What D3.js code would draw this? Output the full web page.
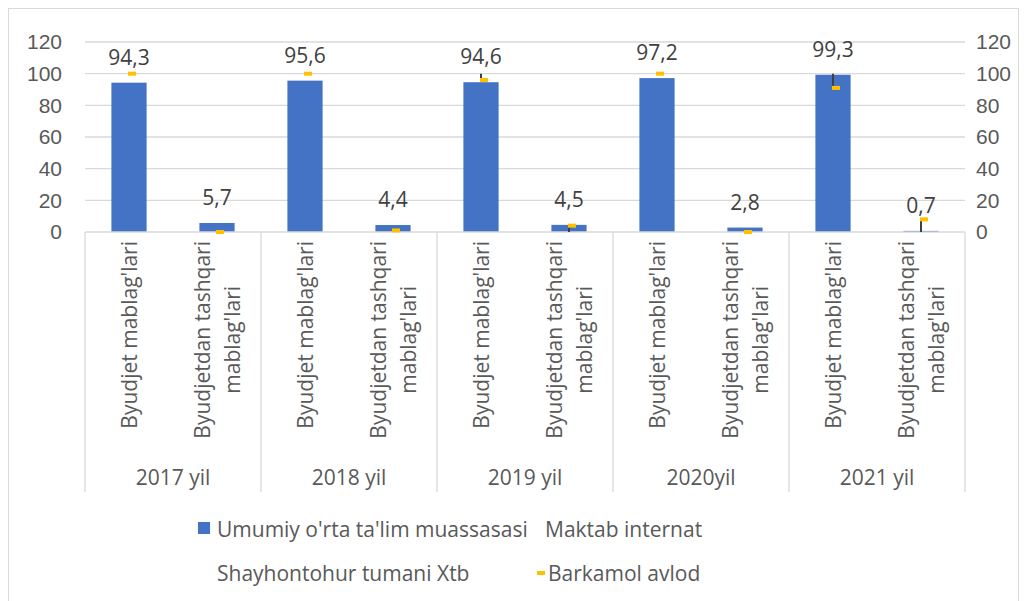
<!DOCTYPE html>
<html>
<head>
<meta charset="utf-8">
<script src="https://cdn.jsdelivr.net/npm/d3@7"></script>
<style>
  body { margin: 0; background: #fff; }
  svg { display: block; font-family: "Open Sans", sans-serif; }
  .tick-label { font-size: 21px; fill: #595959; }
  .data-label { font-size: 21px; fill: #404040; }
  .legend-text { font-size: 21px; fill: #595959; }
</style>
</head>
<body>
<div id="chart"></div>
<script>
// ---- data ----
const years = ['2017 yil', '2018 yil', '2019 yil', '2020yil', '2021 yil'];
const subCategories = ["Byudjet mablag'lari", "Byudjetdan tashqari mablag'lari"];
const yTicks = [0, 20, 40, 60, 80, 100, 120];

const umumiy = [94.3, 5.7, 95.6, 4.4, 94.6, 4.5, 97.2, 2.8, 99.3, 0.7];
const maktabInternat = [100, 0, 100, 0, 100, 0, 100, 0, 100, 0];
const shayhontohur = [100, 0, 100, 0, 100, 0, 100, 0, 100, 0];
const barkamol = [100, 0, 100, 1, 96, 4, 100, 0, 91, 8];

const seriesNames = ["Umumiy o'rta ta'lim muassasasi", 'Maktab internat', 'Shayhontohur tumani Xtb', 'Barkamol avlod'];

const COLORS = { bar: '#4472C4', marker: '#FFC000', grid: '#D9D9D9', hilo: '#404040' };

// categories: one per (year, sub) pair
const categories = years.flatMap((yr, i) => subCategories.map((s, j) => ({ key: i * 2 + j, year: yr, label: s })));

const W = 1027, H = 601;
const plot = { left: 85, right: 965, top: 42, bottom: 232 };

const svg = d3.select('#chart').append('svg').attr('width', W).attr('height', H);

// chart border
svg.append('rect').attr('x', 8.5).attr('y', 8.5).attr('width', 1010).attr('height', 620)
    .attr('fill', '#fff').attr('stroke', COLORS.grid).attr('stroke-width', 1);

const x = d3.scaleBand().domain(categories.map(d => d.key)).range([plot.left, plot.right])
    .paddingInner(0.6).paddingOuter(0.3);
const y = d3.scaleLinear().domain([0, 120]).range([plot.bottom, plot.top]);
const cx = k => x(k) + x.bandwidth() / 2;
const gap = (x.step() - x.bandwidth()) / 2;

// gridlines
svg.append('g').selectAll('line').data(yTicks.filter(t => t > 0)).join('line')
    .attr('x1', plot.left).attr('x2', plot.right)
    .attr('y1', d => y(d)).attr('y2', d => y(d))
    .attr('stroke', COLORS.grid).attr('stroke-width', 1.3);

// axes (labels only)
const leftAxis = svg.append('g').attr('transform', `translate(${plot.left},0)`)
    .call(d3.axisLeft(y).tickValues(yTicks).tickSize(0).tickPadding(23));
const rightAxis = svg.append('g').attr('transform', `translate(${plot.right},0)`)
    .call(d3.axisRight(y).tickValues(yTicks).tickSize(0).tickPadding(11));
[leftAxis, rightAxis].forEach(g => {
    g.select('.domain').remove();
    g.selectAll('text').attr('class', 'tick-label').attr('font-family', null).attr('font-size', null);
});

// bars
svg.append('g').selectAll('rect').data(categories).join('rect')
    .attr('x', d => x(d.key)).attr('width', x.bandwidth())
    .attr('y', d => y(umumiy[d.key])).attr('height', d => y(0) - y(umumiy[d.key]))
    .attr('fill', COLORS.bar);

// category axis line + group separators
svg.append('line').attr('x1', plot.left).attr('x2', plot.right).attr('y1', plot.bottom).attr('y2', plot.bottom)
    .attr('stroke', COLORS.grid).attr('stroke-width', 1.3);
const sepX = years.map((yr, i) => x(i * 2) - gap).concat([x(categories.length - 1) + x.bandwidth() + gap]);
svg.append('g').selectAll('line').data(sepX).join('line')
    .attr('x1', d => d).attr('x2', d => d).attr('y1', plot.bottom).attr('y2', 492)
    .attr('stroke', COLORS.grid).attr('stroke-width', 1.3);

// high-low lines between line series
const lineSeries = [maktabInternat, shayhontohur, barkamol];
svg.append('g').selectAll('line').data(categories).join('line')
    .attr('x1', d => cx(d.key)).attr('x2', d => cx(d.key))
    .attr('y1', d => y(d3.max(lineSeries, s => s[d.key])))
    .attr('y2', d => y(d3.min(lineSeries, s => s[d.key])))
    .attr('stroke', COLORS.hilo).attr('stroke-width', 2);

// Barkamol avlod dash markers
svg.append('g').selectAll('rect').data(categories).join('rect')
    .attr('x', d => cx(d.key) - 1).attr('y', d => y(barkamol[d.key]) - 2)
    .attr('width', 8).attr('height', 4).attr('fill', COLORS.marker);

// data labels
svg.append('g').selectAll('text').data(categories).join('text')
    .attr('class', 'data-label').attr('text-anchor', 'middle')
    .attr('x', d => cx(d.key)).attr('y', d => y(umumiy[d.key]) - 18)
    .text(d => d3.format('.1f')(umumiy[d.key]).replace('.', ','));

// rotated category labels
const labelTop = 241;
categories.forEach(d => {
    const lines = d.label === subCategories[1] ? ['Byudjetdan tashqari', "mablag'lari"] : [d.label];
    const g = svg.append('g');
    const texts = lines.map((ln, i) => {
        const base = cx(d.key) + 8 + (i - (lines.length - 1) / 2) * 30;
        return g.append('text').attr('class', 'tick-label').attr('text-anchor', 'middle')
            .attr('data-x', base).text(ln);
    });
    const maxLen = d3.max(texts, t => t.node().getComputedTextLength());
    texts.forEach(t => {
        t.attr('transform', `translate(${t.attr('data-x')},${labelTop + maxLen / 2}) rotate(-90)`);
    });
});

// year labels
svg.append('g').selectAll('text').data(years).join('text')
    .attr('class', 'tick-label').attr('text-anchor', 'middle')
    .attr('x', (d, i) => (sepX[i] + sepX[i + 1]) / 2).attr('y', 485)
    .text(d => d);

// legend
const legend = svg.append('g');
const legendItems = [
    { name: seriesNames[0], x: 217, y: 537, sym: 'square' },
    { name: seriesNames[1], x: 545, y: 537, sym: null },
    { name: seriesNames[2], x: 217, y: 581, sym: null },
    { name: seriesNames[3], x: 548, y: 581, sym: 'dash' }
];
legendItems.forEach(it => {
    if (it.sym === 'square') {
        legend.append('rect').attr('x', it.x - 19).attr('y', it.y - 15).attr('width', 12).attr('height', 12).attr('fill', COLORS.bar);
    } else if (it.sym === 'dash') {
        legend.append('rect').attr('x', it.x - 11).attr('y', it.y - 10).attr('width', 8).attr('height', 4).attr('fill', COLORS.marker);
    }
    legend.append('text').attr('class', 'legend-text').attr('x', it.x).attr('y', it.y).text(it.name);
});
</script>
</body>
</html>
